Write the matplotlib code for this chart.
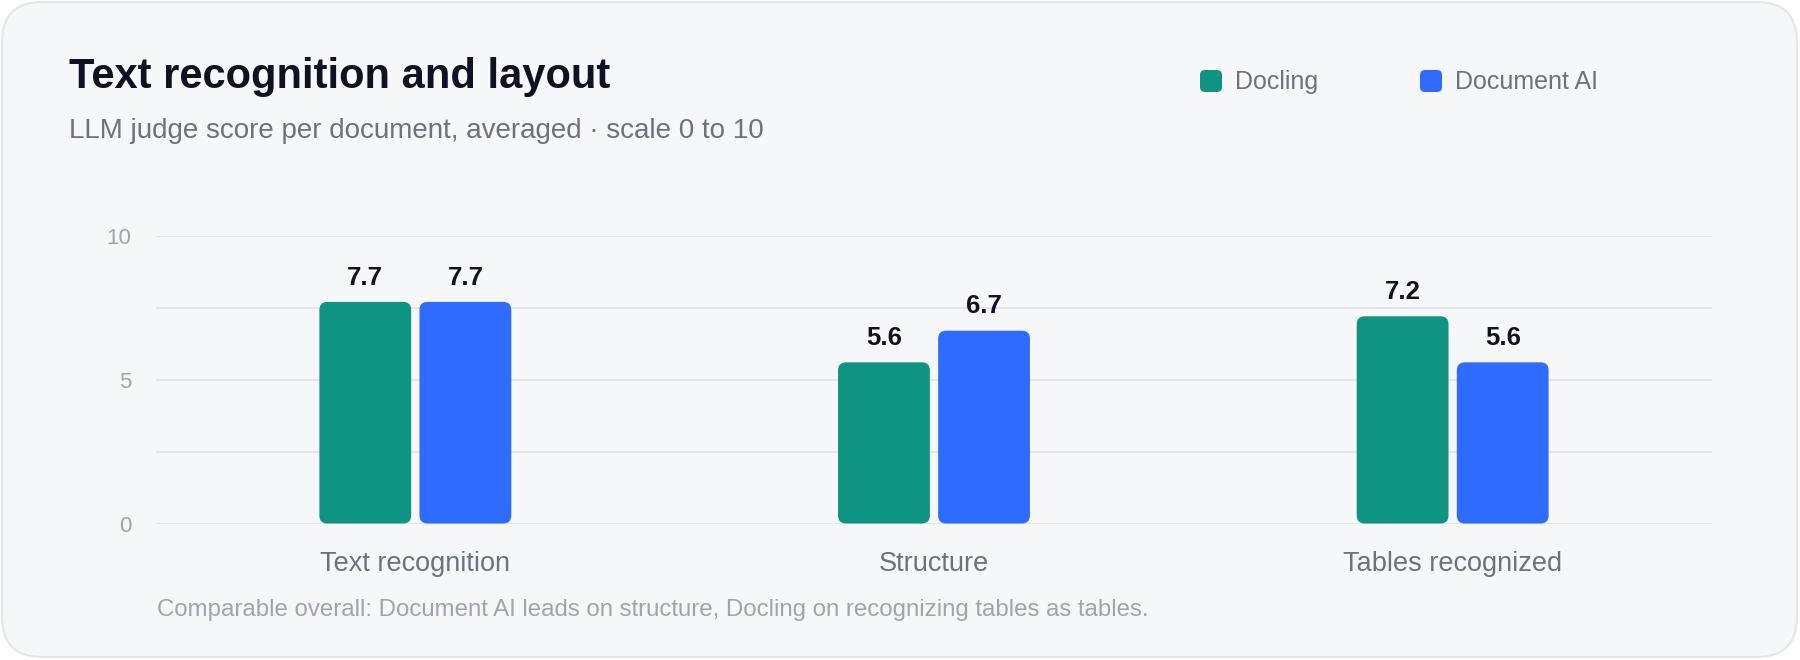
import matplotlib
matplotlib.use("Agg")
import matplotlib.pyplot as plt
from matplotlib.patches import FancyBboxPatch
import numpy as np

# data
categories = ["Text recognition", "Structure", "Tables recognized"]
docling = [7.7, 5.6, 7.2]
document_ai = [7.7, 6.7, 5.6]
series_names = ["Docling", "Document AI"]
y_ticks = [0, 5, 10]
minor_grid = [2.5, 7.5]

title = "Text recognition and layout"
subtitle = "LLM judge score per document, averaged \u00b7 scale 0 to 10"
footnote = "Comparable overall: Document AI leads on structure, Docling on recognizing tables as tables."

GREEN = "#0f9482"
BLUE = "#2f6bff"
CARD = "#f6f7f9"
GRID = "#e3e5e9"

W, H = 1800, 660
plt.rcParams['font.family'] = ['Liberation Sans', 'DejaVu Sans']


def fx(px):
    return px / W


def fy(py):
    return 1 - py / H


fig = plt.figure(figsize=(W / 100, H / 100), dpi=100)
fig.patch.set_facecolor('white')

# card background (drawn under the axes)
card = FancyBboxPatch((fx(2), fy(657)), (W - 5) / W, (H - 5) / H,
                      boxstyle="round,pad=0,rounding_size=%f" % (40 / W),
                      mutation_aspect=W / H, transform=fig.transFigure,
                      facecolor=CARD, edgecolor="#e4e6ea", linewidth=1.5, zorder=-10)
fig.add_artist(card)

# texts
fig.text(fx(69), fy(88), title, fontsize=30, fontweight='bold', color='#0f1222', va='baseline')
fig.text(fx(69), fy(138), subtitle, fontsize=20, color='#6b7280', va='baseline')
fig.text(fx(157), fy(616), footnote, fontsize=17.25, color='#a0a4ac', va='baseline')

# legend
for sx, tx, name, col in [(1200, 1235, series_names[0], GREEN), (1420, 1455, series_names[1], BLUE)]:
    sq = FancyBboxPatch((fx(sx), fy(92)), 22 / W, 22 / H,
                        boxstyle="round,pad=0,rounding_size=%f" % (5 / W),
                        mutation_aspect=W / H, transform=fig.transFigure,
                        facecolor=col, edgecolor='none')
    fig.add_artist(sq)
    fig.text(fx(tx), fy(89), name, fontsize=18, color='#6b7280', va='baseline')

# axes
ax = fig.add_axes([fx(156), fy(523.5), (1712 - 156) / W, (523.5 - 235.7) / H])
ax.patch.set_alpha(0)
ax.set_xlim(-0.5, 2.5)
ax.set_ylim(0, 10)
for s in ax.spines.values():
    s.set_visible(False)

x = np.arange(len(categories))
ax.set_xticks(x, categories)
ax.set_yticks(y_ticks)
ax.set_yticks(minor_grid, minor=True)
ax.yaxis.grid(True, which='both', color=GRID, linewidth=1.4)
ax.set_axisbelow(True)
ax.tick_params(axis='both', which='both', length=0)
ax.tick_params(axis='x', pad=20, labelsize=19.5, labelcolor='#6b7280')
ax.tick_params(axis='y', pad=18, labelsize=16, labelcolor='#a0a4ac')

# rounded bars
bw = 0.177
off = 0.0965
bbox = ax.get_window_extent()
px_x = bbox.width / 3.0
px_y = bbox.height / 10.0
aspect = px_x / px_y
r = 8 / px_x

for vals, col, sign in [(docling, GREEN, -1), (document_ai, BLUE, 1)]:
    for xi, v in zip(x, vals):
        left = xi + sign * off - bw / 2
        p = FancyBboxPatch((left, 0), bw, v,
                           boxstyle="round,pad=0,rounding_size=%f" % r,
                           mutation_aspect=aspect,
                           facecolor=col, edgecolor='none', zorder=3)
        ax.add_patch(p)
        ax.annotate("%.1f" % v, (xi + sign * off, v), xytext=(0, 12.5),
                    textcoords='offset points', ha='center', va='baseline',
                    fontsize=18.5, fontweight='bold', color='#0f1222', zorder=4)

fig.savefig('out.png', dpi=100, facecolor='white')
